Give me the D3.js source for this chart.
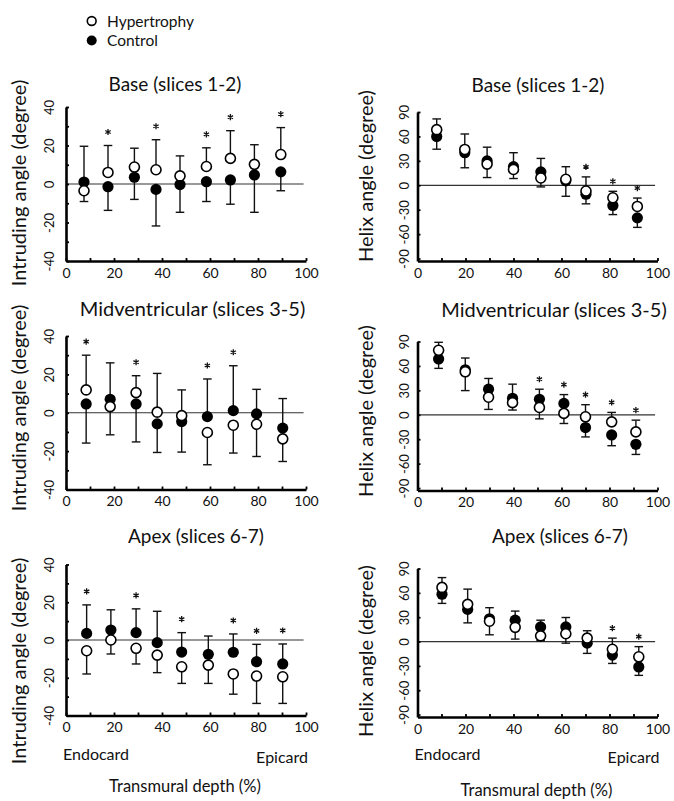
<!DOCTYPE html>
<html><head><meta charset="utf-8">
<script src="https://cdn.jsdelivr.net/npm/d3@7"></script>
<style>
body{margin:0;background:#fff}
svg{display:block}
text{font-family:"Lato","Open Sans",sans-serif;fill:#111}
</style>
</head><body>
<svg id="chart" width="674" height="801"></svg>
<script>
// ---------- data ----------
const groups = ["Hypertrophy", "Control"];
const regionTitles = ["Base (slices 1-2)", "Midventricular (slices 3-5)", "Apex (slices 6-7)"];
const yTitles = ["Intruding angle (degree)", "Helix angle (degree)"];
const xTickLabels = [0, 20, 40, 60, 80, 100];
const intrTickLabels = [-40, -20, 0, 20, 40];
const helixTickLabels = [-90, -60, -30, 0, 30, 60, 90];
const xTitle = "Transmural depth (%)";
const endLabels = ["Endocard", "Epicard"];

// Intruding angle, base
const depthIntrBase = [7.5, 17.5, 28.5, 37.5, 47.5, 58.5, 68.5, 78.5, 89.5];
const hypIntrBase   = [-3.5, 6.0, 8.8, 7.4, 4.2, 9.1, 13.3, 10.2, 15.3];
const hypIntrBaseSD = [5.6, 14, 9.8, 15.6, 10.4, 9.7, 14.4, 10.2, 14];
const conIntrBase   = [1.0, -1.4, 3.5, -2.8, -0.3, 1.2, 2.1, 4.7, 6.3];
const conIntrBaseSD = [18.6, 12.3, 11.5, 19, 14.4, 10.3, 12.6, 19.4, 9.8];
const sigIntrBase   = [0, 1, 0, 1, 0, 1, 1, 0, 1];

// Helix angle, base
const depthHelixBase = [8, 19.7, 29, 40, 51.4, 61.8, 70.2, 81.4, 91.6];
const hypHelixBase   = [68.3, 44, 26, 19.4, 9, 7.4, -7, -15.3, -26];
const hypHelixBaseSD = [13.2, 19, 16.5, 11.1, 11, 15.4, 17.3, 7.9, 10.3];
const conHelixBase   = [60, 40, 30, 22.8, 16.5, 5.5, -11, -24.8, -40];
const conHelixBaseSD = [15.7, 18.5, 16.8, 17.2, 16.5, 19, 11.8, 11.2, 11.7];
const sigHelixBase   = [0, 0, 0, 0, 0, 0, 1, 1, 1];

// Intruding angle, midventricular
const depthIntrMid = [8.4, 18.4, 29.2, 38, 48.2, 58.9, 69.7, 79.4, 90.3];
const hypIntrMid   = [11.9, 3.2, 10.5, 0.3, -1.5, -10.3, -6.5, -6, -13.6];
const hypIntrMidSD = [18.1, 14.7, 8.8, 20.2, 13.4, 16.8, 14.5, 16.8, 11.8];
const conIntrMid   = [4.6, 7, 4.6, -5.8, -4.6, -2, 1.1, -0.6, -8];
const conIntrMidSD = [20.4, 19, 19.8, 14.9, 15.9, 19.6, 23.4, 12.8, 15.4];
const sigIntrMid   = [1, 0, 1, 0, 0, 1, 1, 0, 0];

// Helix angle, midventricular
const depthHelixMid = [8.8, 19.9, 29.6, 39.6, 50.8, 61, 70, 80.9, 91];
const hypHelixMid   = [79.2, 52.8, 21.5, 14.9, 9, 1.7, -2.5, -8.7, -21];
const hypHelixMidSD = [9.8, 23.1, 14.9, 9.1, 14, 12.4, 14.9, 11.6, 14.4];
const conHelixMid   = [68.5, 55.3, 31.4, 20.2, 19, 14, -15.7, -24.8, -36.3];
const conHelixMidSD = [11.5, 14.4, 13.2, 17.4, 12.4, 10.8, 11.5, 13.2, 12.4];
const sigHelixMid   = [0, 0, 0, 0, 1, 1, 1, 1, 1];

// Intruding angle, apex
const depthIntrApex = [8.6, 18.7, 29.2, 38, 48.2, 59.3, 69.7, 79.4, 90.3];
const hypIntrApex   = [-5.7, 0, -4.4, -8, -14.2, -13.3, -18, -19.1, -19.5];
const hypIntrApexSD = [12.3, 7.4, 8.3, 9.3, 8.8, 9.7, 10.7, 14.5, 14.1];
const conIntrApex   = [3.5, 5.3, 3.9, -1.4, -6.4, -7.6, -6.5, -11.5, -12.7];
const conIntrApexSD = [15.1, 10.7, 12.6, 16.6, 10.3, 9.7, 9.7, 9.2, 10.6];
const sigIntrApex   = [1, 0, 1, 0, 1, 0, 1, 1, 1];

// Helix angle, apex
const depthHelixApex = [10.2, 20.9, 30, 40.7, 51.3, 61.8, 70.7, 81.2, 92.2];
const hypHelixApex   = [66.7, 45.8, 25, 17.5, 7, 9.6, 4.2, -9.6, -18.8];
const hypHelixApexSD = [12.1, 18.8, 16.7, 14.5, 6, 11.6, 9.1, 13.8, 12.5];
const conHelixApex   = [58.3, 39.6, 28, 26.3, 18, 18, -2, -16.7, -31.3];
const conHelixApexSD = [11.3, 16.6, 13.7, 11.2, 8.3, 11.6, 12.6, 10.3, 10.4];
const sigHelixApex   = [0, 0, 0, 0, 0, 0, 0, 1, 1];

// ---------- layout ----------
const svg = d3.select("#chart");
const LX = [66, 306], RX = [417.5, 657.5];
const panels = [
  {kind:"intr", row:0, xr:LX, top:107, bottom:261, titleX:175, titleY:91, ytY:183,
   depth:depthIntrBase, hyp:hypIntrBase, hypSD:hypIntrBaseSD, con:conIntrBase, conSD:conIntrBaseSD, sig:sigIntrBase},
  {kind:"helix", row:0, xr:RX, top:112, bottom:261, titleX:538, titleY:92, ytY:176,
   depth:depthHelixBase, hyp:hypHelixBase, hypSD:hypHelixBaseSD, con:conHelixBase, conSD:conHelixBaseSD, sig:sigHelixBase},
  {kind:"intr", row:1, xr:LX, top:336, bottom:489.5, titleX:192.5, titleY:316, ytY:408,
   depth:depthIntrMid, hyp:hypIntrMid, hypSD:hypIntrMidSD, con:conIntrMid, conSD:conIntrMidSD, sig:sigIntrMid},
  {kind:"helix", row:1, xr:RX, top:341.5, bottom:490.5, titleX:554, titleY:317, ytY:411,
   depth:depthHelixMid, hyp:hypHelixMid, hypSD:hypHelixMidSD, con:conHelixMid, conSD:conHelixMidSD, sig:sigHelixMid},
  {kind:"intr", row:2, xr:LX, top:564.5, bottom:715.5, titleX:196, titleY:543, ytY:661,
   depth:depthIntrApex, hyp:hypIntrApex, hypSD:hypIntrApexSD, con:conIntrApex, conSD:conIntrApexSD, sig:sigIntrApex},
  {kind:"helix", row:2, xr:RX, top:568.5, bottom:717, titleX:560, titleY:543, ytY:651,
   depth:depthHelixApex, hyp:hypHelixApex, hypSD:hypHelixApexSD, con:conHelixApex, conSD:conHelixApexSD, sig:sigHelixApex}
];

const starPath = d3.symbol(d3.symbolAsterisk, 26)();

function drawPanel(p) {
  const isIntr = p.kind === "intr";
  const x = d3.scaleLinear().domain([0, 100]).range(p.xr);
  const y = d3.scaleLinear().domain(isIntr ? [-40, 40] : [-93, 90]).range([p.bottom, p.top]);
  const g = svg.append("g");

  // title
  g.append("text").attr("x", p.titleX).attr("y", p.titleY).attr("text-anchor", "middle")
    .attr("font-size", p.row === 1 ? 20 : 19).text(regionTitles[p.row]);

  // y-axis title
  const ytX = isIntr ? 26 : 373;
  g.append("text").attr("transform", `translate(${ytX},${p.ytY}) rotate(-90)`)
    .attr("text-anchor", "middle").attr("font-size", 20).text(yTitles[isIntr ? 0 : 1]);

  // zero reference line
  g.append("line").attr("x1", x(0)).attr("x2", x(99)).attr("y1", y(0)).attr("y2", y(0))
    .attr("stroke", "#333").attr("stroke-width", 1.2);

  // x axis
  const xa = g.append("g").attr("transform", `translate(0,${p.bottom})`)
    .call(d3.axisBottom(x).tickValues(d3.range(0, 101, 10)).tickSizeInner(-3).tickSizeOuter(0)
      .tickPadding(5).tickFormat(d => xTickLabels.includes(d) ? d : ""));
  xa.select(".domain").attr("stroke", "#000").attr("stroke-width", 2.6);
  xa.selectAll(".tick line").attr("stroke", "#000").attr("stroke-width", 1.8);
  xa.selectAll("text").attr("font-size", 14).attr("fill", "#222").attr("y", 7);

  // y axis
  const yVals = isIntr ? d3.range(-40, 41, 10) : helixTickLabels;
  const yLabs = isIntr ? intrTickLabels : helixTickLabels;
  const ya = g.append("g").attr("transform", `translate(${p.xr[0]},0)`)
    .call(d3.axisLeft(y).tickValues(yVals).tickSizeInner(-3).tickSizeOuter(0)
      .tickFormat(d => yLabs.includes(d) ? d : ""));
  ya.select(".domain").attr("stroke", "#000").attr("stroke-width", 2.6);
  ya.selectAll(".tick line").attr("stroke", "#000").attr("stroke-width", 1.8);
  const off = isIntr ? 17 : 13.5;
  ya.selectAll("text").attr("x", null).attr("dy", "0.35em")
    .attr("transform", `translate(${-off},0) rotate(-90)`)
    .attr("text-anchor", "middle").attr("font-size", 13).attr("fill", "#222");

  // points
  const pts = p.depth.map((d, i) => {
    const hUp = p.hyp[i] >= p.con[i];
    return {d, h: p.hyp[i], hs: p.hypSD[i], c: p.con[i], cs: p.conSD[i], hUp, sig: p.sig[i]};
  });
  const cap = 4.3;
  const bars = [];
  pts.forEach(o => {
    bars.push({d: o.d, v: o.h, e: o.hUp ? o.h + o.hs : o.h - o.hs});
    bars.push({d: o.d, v: o.c, e: o.hUp ? o.c - o.cs : o.c + o.cs});
  });
  g.selectAll(".eb").data(bars).join("line").attr("class", "eb")
    .attr("x1", b => x(b.d)).attr("x2", b => x(b.d)).attr("y1", b => y(b.v)).attr("y2", b => y(b.e))
    .attr("stroke", "#111").attr("stroke-width", 1.4);
  g.selectAll(".cap").data(bars).join("line").attr("class", "cap")
    .attr("x1", b => x(b.d) - cap).attr("x2", b => x(b.d) + cap).attr("y1", b => y(b.e)).attr("y2", b => y(b.e))
    .attr("stroke", "#111").attr("stroke-width", 1.4);
  g.selectAll(".con").data(pts).join("circle").attr("class", "con")
    .attr("cx", o => x(o.d)).attr("cy", o => y(o.c)).attr("r", 5.6).attr("fill", "#000");
  g.selectAll(".hyp").data(pts).join("circle").attr("class", "hyp")
    .attr("cx", o => x(o.d)).attr("cy", o => y(o.h)).attr("r", 5).attr("fill", "#fff")
    .attr("stroke", "#000").attr("stroke-width", 1.6);
  const starOff = isIntr ? 13.5 : 10;
  g.selectAll(".star").data(pts.filter(o => o.sig)).join("path").attr("class", "star")
    .attr("d", starPath)
    .attr("transform", o => `translate(${x(o.d)},${y(Math.max(o.h + (o.hUp ? o.hs : 0), o.c + (o.hUp ? 0 : o.cs))) - starOff})`)
    .attr("fill", "none").attr("stroke", "#111").attr("stroke-width", 1.3);

  // bottom-row labels
  if (p.row === 2) {
    g.append("text").attr("x", p.xr[0] - 3).attr("y", 760).attr("font-size", 16).text(endLabels[0]);
    g.append("text").attr("x", p.xr[1] + 2).attr("y", 763).attr("text-anchor", "end").attr("font-size", 16).text(endLabels[1]);
    g.append("text").attr("x", (p.xr[0] + p.xr[1]) / 2 - 1).attr("y", isIntr ? 792 : 796)
      .attr("text-anchor", "middle").attr("font-size", 16.5).text(xTitle);
  }
}
panels.forEach(drawPanel);

// legend
const leg = svg.append("g");
groups.forEach((name, i) => {
  leg.append("circle").attr("cx", 91.7).attr("cy", 21 + i * 19.5).attr("r", i === 0 ? 4.4 : 5)
    .attr("fill", i === 0 ? "#fff" : "#000").attr("stroke", "#000").attr("stroke-width", i === 0 ? 1.6 : 0);
  leg.append("text").attr("x", 107).attr("y", 26.5 + i * 19.5).attr("font-size", 15.5).text(name);
});
</script>
</body></html>
